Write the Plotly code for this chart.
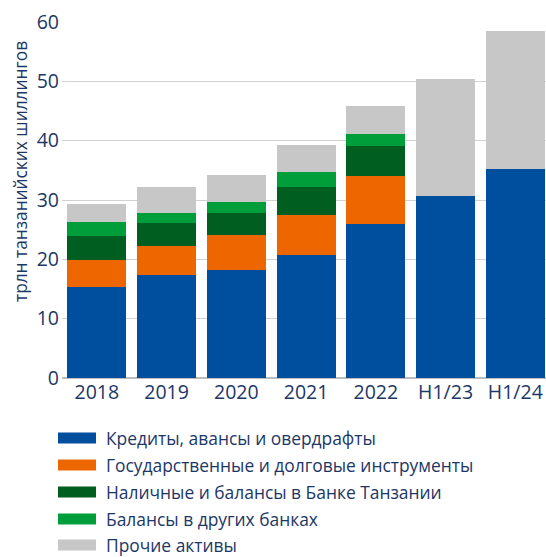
import plotly.graph_objects as go

categories = ["2018", "2019", "2020", "2021", "2022", "H1/23", "H1/24"]
series_names = [
    "Кредиты, авансы и овердрафты",
    "Государственные и долговые инструменты",
    "Наличные и балансы в Банке Танзании",
    "Балансы в других банках",
    "Прочие активы",
]
loans = [15.3, 17.4, 18.2, 20.7, 26.0, 30.7, 35.2]
gov_securities = [4.6, 4.8, 5.9, 6.8, 8.0, 0, 0]
cash_bot = [4.0, 3.9, 3.7, 4.7, 5.1, 0, 0]
other_banks = [2.4, 1.7, 1.9, 2.5, 2.0, 0, 0]
other_assets = [3.0, 4.4, 4.5, 4.6, 4.7, 19.7, 23.3]
y_ticks = [0, 10, 20, 30, 40, 50, 60]
y_title = "трлн танзанийских шиллингов"

values = [loans, gov_securities, cash_bot, other_banks, other_assets]
colors = ["#004F9F", "#EE6600", "#005E20", "#009E3B", "#C6C7C6"]
text_color = "#1C3766"
font_family = "Open Sans, Noto Sans, sans-serif"

W, H = 546, 557
ml, mr, mt, mb = 62, 0, 22, 179
pw, ph = W - ml - mr, H - mt - mb

fig = go.Figure()
for name, vals, col in zip(series_names, values, colors):
    fig.add_trace(go.Bar(x=categories, y=vals, name=name, marker=dict(color=col, line=dict(width=0)),
                         showlegend=False))


def px_to_paper_x(px):
    return (px - ml) / pw


def px_to_paper_y(py):
    return (H - mb - py) / ph


# manual legend (wide swatches)
row_y = [438, 465, 492, 519, 545]
for name, col, ry in zip(series_names, colors, row_y):
    fig.add_shape(type="rect", xref="paper", yref="paper",
                  x0=px_to_paper_x(58), x1=px_to_paper_x(96),
                  y0=px_to_paper_y(ry + 5.5), y1=px_to_paper_y(ry - 5.5),
                  fillcolor=col, line=dict(width=0))
    fig.add_annotation(xref="paper", yref="paper", x=px_to_paper_x(104), y=px_to_paper_y(ry),
                       text=name, showarrow=False, xanchor="left", yanchor="middle",
                       font=dict(size=17.4, color=text_color, family=font_family))

# y-axis title
fig.add_annotation(xref="paper", yref="paper", x=px_to_paper_x(20), y=px_to_paper_y(172),
                   text=y_title, textangle=-90, showarrow=False,
                   xanchor="center", yanchor="middle",
                   font=dict(size=17.3, color=text_color, family=font_family))

fig.update_layout(
    barmode="stack",
    bargap=0.155,
    width=W, height=H,
    margin=dict(l=ml, r=mr, t=mt, b=mb, autoexpand=False),
    plot_bgcolor="white", paper_bgcolor="white",
    font=dict(family=font_family, color=text_color),
)
fig.update_xaxes(range=[-0.5, 6.44], tickfont=dict(size=19.5, color=text_color), showgrid=False,
                 showline=False, ticks="")
fig.update_yaxes(range=[0, 60], tickvals=y_ticks, tickfont=dict(size=19.5, color=text_color),
                 showgrid=True, gridcolor="#D2D2D2", gridwidth=1.2, zeroline=True,
                 zerolinecolor="#BDBDBD", zerolinewidth=2,
                 ticks="", ticklabelstandoff=2)

fig.write_html("out.html", config={"displayModeBar": False},
               post_script="document.body.style.margin='0';document.body.style.overflow='hidden';")
